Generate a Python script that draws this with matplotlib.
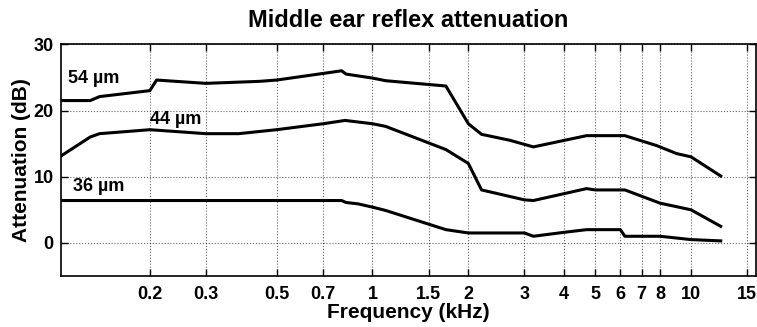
import numpy as np
import matplotlib.pyplot as plt

# ---- data ----
f54 = [0.105, 0.13, 0.139, 0.2, 0.21, 0.3, 0.44, 0.5, 0.7, 0.8, 0.826, 1.0, 1.1, 1.7, 2.0, 2.2, 2.7, 3.2, 4.7, 6.2, 7.8, 9.0, 10.0, 12.4]
a54 = [21.5, 21.5, 22.1, 23.0, 24.6, 24.1, 24.4, 24.6, 25.6, 26.0, 25.5, 24.9, 24.5, 23.7, 18.0, 16.4, 15.5, 14.5, 16.2, 16.2, 14.7, 13.5, 13.0, 10.1]

f44 = [0.105, 0.13, 0.139, 0.2, 0.3, 0.38, 0.5, 0.7, 0.82, 1.0, 1.1, 1.7, 2.0, 2.2, 3.0, 3.2, 4.7, 5.0, 6.2, 8.0, 10.0, 12.4]
a44 = [13.1, 16.0, 16.5, 17.1, 16.5, 16.5, 17.1, 18.0, 18.5, 18.0, 17.6, 14.1, 12.0, 8.0, 6.5, 6.4, 8.2, 8.0, 8.0, 6.0, 5.0, 2.5]

f36 = [0.105, 0.8, 0.826, 0.9, 1.0, 1.1, 1.7, 2.0, 3.0, 3.2, 4.0, 4.7, 6.0, 6.2, 8.0, 10.0, 12.4]
a36 = [6.4, 6.4, 6.1, 5.9, 5.4, 4.9, 2.0, 1.5, 1.5, 1.0, 1.6, 2.0, 2.0, 1.0, 1.0, 0.5, 0.3]

labels = ['54 µm', '44 µm', '36 µm']
label_pos = [(0.1106, 24.1), (0.2, 17.9), (0.1146, 7.8)]

xticks = [0.2, 0.3, 0.5, 0.7, 1, 1.5, 2, 3, 4, 5, 6, 7, 8, 10, 15]
xticklabels = ['0.2', '0.3', '0.5', '0.7', '1', '1.5', '2', '3', '4', '5', '6', '7', '8', '10', '15']
yticks = [0, 10, 20, 30]

plt.rcParams['font.family'] = ['Liberation Sans', 'DejaVu Sans']
plt.rcParams['font.weight'] = 'bold'

fig = plt.figure(figsize=(7.57, 3.27), dpi=100)
ax = fig.add_axes([0.0802, 0.156, 0.9185, 0.7085])

for f, a in [(f54, a54), (f44, a44), (f36, a36)]:
    ax.plot(f, a, color='k', lw=2.2, solid_joinstyle='round')

for t, (x, y) in zip(labels, label_pos):
    ax.text(x, y, t, fontsize=13, fontweight='bold', va='baseline', ha='left')

ax.set_xscale('log')
ax.set_xlim(0.105, 16)
ax.set_ylim(-5, 30)
ax.set_xticks(xticks)
ax.set_xticklabels(xticklabels)
ax.xaxis.set_minor_locator(plt.NullLocator())
ax.set_yticks(yticks)

ax.tick_params(direction='in', top=True, right=True, length=5, width=1,
               labelsize=13)
ax.tick_params(axis='x', pad=7)
ax.tick_params(axis='y', pad=5)
for lab in ax.get_xticklabels() + ax.get_yticklabels():
    lab.set_fontweight('bold')
for s in ax.spines.values():
    s.set_linewidth(1.2)

ax.grid(True, which='major', linestyle=':', color='k', lw=0.8, alpha=0.6)

ax.set_xlabel('Frequency (kHz)', fontsize=15, fontweight='bold', labelpad=0)
ax.set_ylabel('Attenuation (dB)', fontsize=15, fontweight='bold', labelpad=2)
ax.set_title('Middle ear reflex attenuation', fontsize=17, fontweight='bold', pad=12.5)

fig.savefig('out.png', dpi=100)
